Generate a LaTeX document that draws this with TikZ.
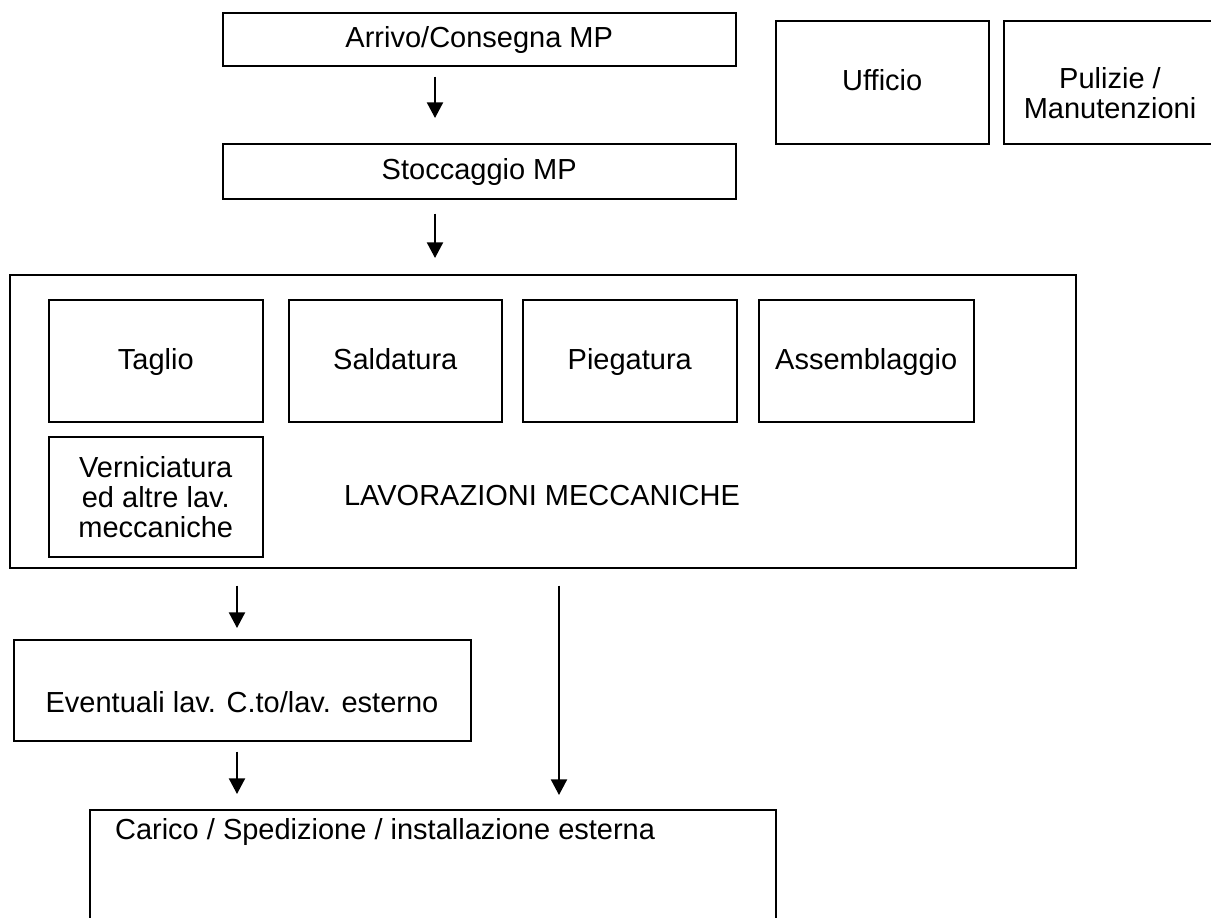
\documentclass[tikz,border=0pt]{standalone}
\usepackage{fontspec}
\setmainfont{Liberation Sans}
\usetikzlibrary{positioning,arrows.meta}

\begin{document}
\begin{tikzpicture}[x=0.5pt,y=-0.5pt,
  every node/.style={font=\fontsize{14.5}{15}\selectfont},
  box/.style={draw,line width=0.75pt,inner sep=0pt,align=center,anchor=north west},
  oneline/.style={text height=11pt,text depth=2.5pt},
  arr/.style={-{Triangle[length=7.8pt,width=8pt]},line width=1pt}]
  \useasboundingbox (0,0) rectangle (1211,917);
  \clip (0,0) rectangle (1211,917);
  % flow at the top
  \node[box,oneline,minimum width=256.5pt,minimum height=26.5pt] (arrivo) at (222,12) {Arrivo/Consegna MP};
  \node[box,oneline,minimum width=256.5pt,minimum height=27.5pt] (stocc) at (222,143) {Stoccaggio MP};
  \node[box,oneline,minimum width=106.5pt,minimum height=61.5pt] (ufficio) at (775,20) {Ufficio};
  \node[box,minimum width=107pt,minimum height=61.5pt] (pulizie) at (1003,20) {};
  \node[align=center] (pulizietxt) at (1110,93) {Pulizie /\\Manutenzioni};
  % mechanical work area
  \node[box,minimum width=533pt,minimum height=146.5pt] (lav) at (9,274) {};
  \node[box,oneline,minimum width=107pt,minimum height=61pt] (taglio) at (48,299) {Taglio};
  \node[box,oneline,minimum width=106.5pt,minimum height=61pt] (sald) at (288,299) {Saldatura};
  \node[box,oneline,minimum width=107pt,minimum height=61pt] (pieg) at (522,299) {Piegatura};
  \node[box,oneline,minimum width=107.5pt,minimum height=61pt] (assem) at (758,299) {Assemblaggio};
  \node[box,minimum width=107pt,minimum height=60pt] (vernic) at (48,436) {Verniciatura\\ed altre lav.\\meccaniche};
  \node[oneline] (lavtxt) at (542,497) {LAVORAZIONI MECCANICHE};
  % outside work and shipping
  \node[box,minimum width=228.5pt,minimum height=50.5pt] (event) at (13,639) {};
  \node[oneline] (eventtxt) at (242,704) {Eventuali lav. C.to/lav. esterno};
  \node[box,minimum width=343pt,minimum height=100pt] (carico) at (89,809) {};
  \node[oneline,anchor=west] (caricotxt) at (108,831) {Carico / Spedizione / installazione esterna};
  % arrows
  \coordinate (xa) at (435,0);
  \coordinate (xb) at (237,0);
  \coordinate (xc) at (559,0);
  \draw[arr,shorten <=5pt,shorten >=12.5pt] (arrivo.south -| xa) -- (stocc.north -| xa);
  \draw[arr,shorten <=7pt,shorten >=8pt] (stocc.south -| xa) -- (lav.north -| xa);
  \draw[arr,shorten <=8.5pt,shorten >=5.5pt] (lav.south -| xb) -- (event.north -| xb);
  \draw[arr,shorten <=5pt,shorten >=7.5pt] (event.south -| xb) -- (carico.north -| xb);
  \draw[arr,shorten <=8.5pt,shorten >=7pt] (lav.south -| xc) -- (carico.north -| xc);
\end{tikzpicture}
\end{document}
